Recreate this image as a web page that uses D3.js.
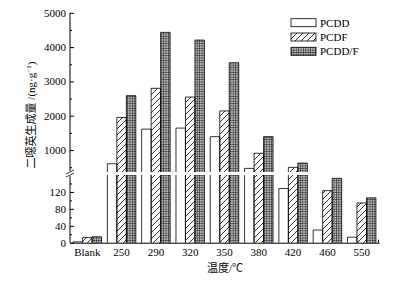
<!DOCTYPE html>
<html><head><meta charset="utf-8">
<script src="https://cdn.jsdelivr.net/npm/d3@7"></script>
<style>
body{margin:0;background:#fff;}
text{font-family:"Liberation Serif","Noto Sans CJK SC",serif;}
</style></head>
<body><svg id="c" width="398" height="286"></svg>
<script>
const categories = ["Blank","250","290","320","350","380","420","460","550"];
const seriesNames = ["PCDD","PCDF","PCDD/F"];
const pcdd  = [2, 600, 1610, 1640, 1390, 465, 128, 30, 13];
const pcdf  = [12, 1950, 2800, 2545, 2140, 905, 495, 123, 94];
const pcddf = [14, 2585, 4430, 4205, 3545, 1390, 620, 152, 106];
const upperTicks = [1000, 2000, 3000, 4000, 5000];
const upperMinor = [500, 1500, 2500, 3500, 4500];
const lowerTicks = [0, 40, 80, 120];
const lowerMinor = [20, 60, 100, 140];
const series = [pcdd, pcdf, pcddf];

const svg = d3.select("#c");
const defs = svg.append("defs");
const ph = defs.append("pattern").attr("id","hatch").attr("patternUnits","userSpaceOnUse")
  .attr("width",6).attr("height",6);
ph.append("rect").attr("width",6).attr("height",6).attr("fill","#fff");
ph.append("path").attr("d","M0,6 L6,0 M-1,1 L1,-1 M5,7 L7,5").attr("stroke","#000").attr("stroke-width",0.8);
const pg = defs.append("pattern").attr("id","grid").attr("patternUnits","userSpaceOnUse")
  .attr("width",2.4).attr("height",2.4);
pg.append("rect").attr("width",2.4).attr("height",2.4).attr("fill","#bbb");
pg.append("path").attr("d","M0,0 L0,2.4 M0,0 L2.4,0").attr("stroke","#000").attr("stroke-width",0.9);
const fills = ["#fff","url(#hatch)","url(#grid)"];

const x0 = d3.scaleBand().domain(categories).range([70,379]).paddingInner(0.17).paddingOuter(0.089);
const x1 = d3.scaleBand().domain(seriesNames).range([0, x0.bandwidth()]);
const LMAX = 160, UMIN = 360;
const yU = d3.scaleLinear().domain([UMIN,5000]).range([172,12.8]);
const yL = d3.scaleLinear().domain([0,LMAX]).range([242.7,175]);

const data = [];
categories.forEach((c,i)=>seriesNames.forEach((s,j)=>data.push({c,s,j,v:series[j][i]})));
const bx = d=>x0(d.c)+x1(d.s), bw = x1.bandwidth();

const g = svg.append("g");
g.selectAll(".bl").data(data).join("rect")
  .attr("x",bx).attr("width",bw)
  .attr("y",d=>yL(Math.min(d.v,LMAX))).attr("height",d=>yL(0)-yL(Math.min(d.v,LMAX)))
  .attr("fill",d=>fills[d.j]);
g.selectAll(".ol").data(data).join("path")
  .attr("d",d=>{const x=bx(d),y=yL(Math.min(d.v,LMAX)),b=yL(0);
    return d.v>LMAX ? `M${x},${b}V${y}M${x+bw},${y}V${b}` : `M${x},${b}V${y}H${x+bw}V${b}`;})
  .attr("fill","none").attr("stroke","#000").attr("stroke-width",0.8);
const up = data.filter(d=>d.v>UMIN);
g.selectAll(".bu").data(up).join("rect")
  .attr("x",bx).attr("width",bw)
  .attr("y",d=>yU(d.v)).attr("height",d=>yU(UMIN)-yU(d.v))
  .attr("fill",d=>fills[d.j]);
g.selectAll(".ou").data(up).join("path")
  .attr("d",d=>{const x=bx(d),y=yU(d.v),b=yU(UMIN);return `M${x},${b}V${y}H${x+bw}V${b}`;})
  .attr("fill","none").attr("stroke","#000").attr("stroke-width",0.8);

const fmt = d3.format("d");
const axU = svg.append("g").attr("transform","translate(70,0)")
  .call(d3.axisLeft(yU).tickValues(upperTicks).tickSizeInner(-4).tickSizeOuter(0).tickPadding(4).tickFormat(fmt));
const axL = svg.append("g").attr("transform","translate(70,0)")
  .call(d3.axisLeft(yL).tickValues(lowerTicks).tickSizeInner(-4).tickSizeOuter(0).tickPadding(4).tickFormat(fmt));
[axU,axL].forEach(a=>{a.select(".domain").remove();a.selectAll("text").attr("font-size",11).attr("fill","#000");a.selectAll("line").attr("stroke","#000");});
svg.append("g").attr("transform","translate(70,0)")
  .call(d3.axisLeft(yU).tickValues(upperMinor).tickSizeInner(-2).tickSizeOuter(0).tickFormat(""))
  .call(a=>a.select(".domain").remove());
svg.append("g").attr("transform","translate(70,0)")
  .call(d3.axisLeft(yL).tickValues(lowerMinor).tickSizeInner(-2).tickSizeOuter(0).tickFormat(""))
  .call(a=>a.select(".domain").remove());
svg.append("line").attr("x1",70).attr("x2",70).attr("y1",yU(5000)).attr("y2",yU(UMIN)-1).attr("stroke","#000");
svg.append("line").attr("x1",70).attr("x2",70).attr("y1",yL(LMAX)+1).attr("y2",yL(0)).attr("stroke","#000");
[0,3].forEach(o=>{
  svg.append("line").attr("x1",66).attr("x2",74).attr("y1",yU(UMIN)+2+o).attr("y2",yU(UMIN)-2+o).attr("stroke","#000").attr("stroke-width",0.8);
});
const axX = svg.append("g").attr("transform",`translate(0,${yL(0)})`)
  .call(d3.axisBottom(x0).tickSize(0).tickPadding(6));
axX.select(".domain").attr("stroke","#000");
axX.selectAll("text").attr("font-size",11).attr("fill","#000");
svg.append("line").attr("x1",378.5).attr("x2",378.5).attr("y1",yL(0)).attr("y2",yL(0)-3).attr("stroke","#000");

svg.append("text").attr("x",225).attr("y",272).attr("text-anchor","middle").attr("font-size",11).text("温度/℃");
const yl = svg.append("text").attr("transform","translate(35,115) rotate(-90)").attr("text-anchor","middle").attr("font-size",11);
yl.append("tspan").text("二噁英生成量 /(ng·g");
yl.append("tspan").attr("font-size",7).attr("dy",-4).text("−1");
yl.append("tspan").attr("dy",4).text(")");

const lg = svg.append("g").selectAll("g").data(seriesNames).join("g")
  .attr("transform",(d,i)=>`translate(291,${18.7+i*14.3})`);
lg.append("rect").attr("width",25).attr("height",8).attr("fill",(d,i)=>fills[i]).attr("stroke","#000").attr("stroke-width",0.8);
lg.append("text").attr("x",29).attr("y",4).attr("dy","0.35em").attr("font-size",11).text(d=>d);
</script></body></html>
